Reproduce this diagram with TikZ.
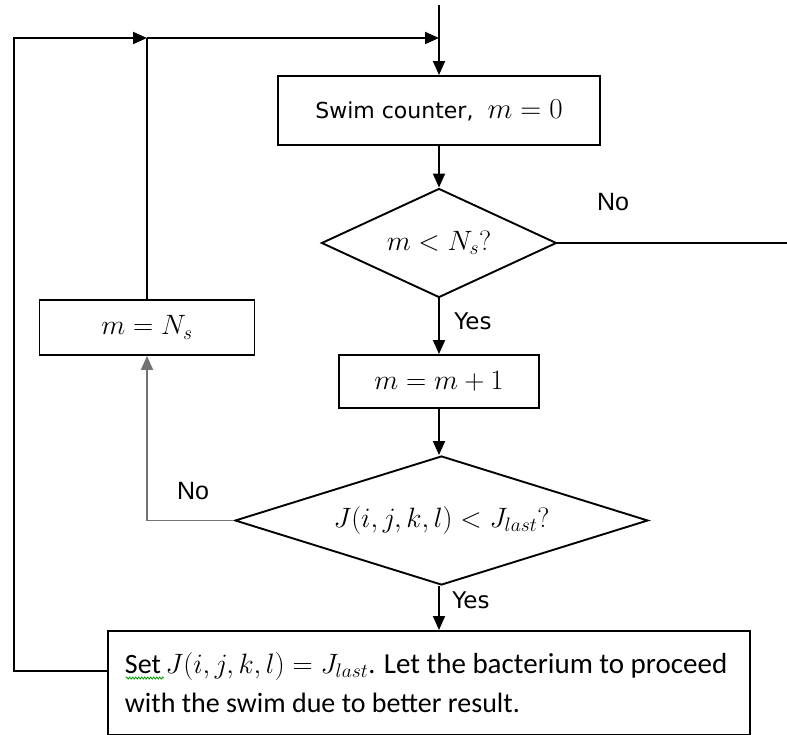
\RequirePackage{fix-cm}
\documentclass[tikz,border=0pt]{standalone}
\usepackage{fontspec}
\setmainfont{Liberation Sans}
\newfontfamily\tahoma{DejaVu Sans}
\newfontfamily\calibri{Carlito}
\usetikzlibrary{shapes.geometric,arrows.meta,decorations.pathmorphing}
\begin{document}
\begin{tikzpicture}[x=1pt,y=-1pt, line width=1.9pt,
  box/.style={draw, rectangle, inner sep=0pt},
  dia/.style={draw, diamond, inner sep=0pt},
  arr/.style={-{Triangle[length=14pt,width=12pt]}},
  nolbl/.style={font=\fontsize{25}{28}\selectfont, inner sep=0pt},
  yeslbl/.style={font=\tahoma\fontsize{23}{26}\selectfont, inner sep=0pt},
  mth/.style={font=\fontsize{28}{32}\selectfont}]
\useasboundingbox (0,0) rectangle (787,735);
\clip (0,0) rectangle (787,735);
% nodes
\node[box, minimum width=322pt, minimum height=69pt, font=\tahoma\fontsize{22}{26}\selectfont] (b1) at (439,110.5) {Swim counter,\hspace{14pt}{\fontsize{29}{32}\selectfont$m=0$}};
\node[dia, aspect=2.16, minimum width=235pt, minimum height=109pt, mth] (d1) at (439,243) {$m<N_s?$};
\node[box, minimum width=200pt, minimum height=53pt, mth] (b2) at (439,381.5) {$m=m+1$};
\node[dia, aspect=3.2, minimum width=413pt, minimum height=129pt, mth] (d2) at (441.5,520.5) {$J(i,j,k,l)<J_{last}?$};
\node[box, minimum width=215pt, minimum height=55pt, mth] (b3) at (147,327.5) {$m=N_s$};
\node[box, minimum width=642pt, minimum height=104pt, anchor=north west] (b4) at (107,630) {};
\node[anchor=base west, align=left, inner sep=0pt, font=\calibri\fontsize{28}{39}\selectfont] (t4) at (124,712)
  {Set\,{\fontsize{28}{32}\selectfont$J(i,j,k,l)=J_{last}$}. {\fontsize{29}{32}\selectfont Let the bacterium to proceed}\\with the swim due to better result.};
% coordinates
\coordinate (top) at (439,5);
\coordinate (j1) at (147,38);
\coordinate (j2) at (439,38);
\coordinate (far) at (790,243);
\coordinate (lft) at (14,38);
% connectors
\draw[arr] (top) -- (b1.north);
\draw[arr] (b4.west |- 0,671) -| (lft) -- (j1);
\draw (b3.north) -- (j1);
\draw[arr] (j1) -- (j2);
\draw[arr] (b1.south) -- (d1.north);
\draw (d1.east) -- (far);
\draw[arr] (d1.south) -- (b2.north);
\draw[arr] (b2.south) -- (b2.south |- d2.north);
\draw[arr, draw=black!55] (d2.west) -| (b3.south);
\draw[arr] (b2.south |- d2.south) -- (b2.south |- b4.north);
% labels
\node[nolbl] (no1) at (613,202) {No};
\node[yeslbl] (yes1) at (473,321) {Yes};
\node[nolbl] (no2) at (193,491) {No};
\node[yeslbl] (yes2) at (471,600) {Yes};
% spell-check squiggle
\draw[green!60!black, line width=0.8pt, decoration={zigzag,segment length=3pt,amplitude=1pt}, decorate] (126,678) -- (164,678);
\end{tikzpicture}
\end{document}
